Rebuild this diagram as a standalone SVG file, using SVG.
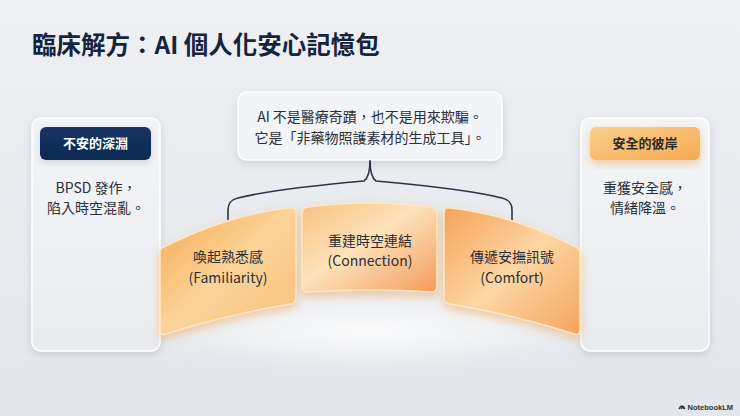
<svg xmlns="http://www.w3.org/2000/svg" width="740" height="416" viewBox="0 0 740 416">
<defs>
<linearGradient id="bg" x1="0" y1="0" x2="0" y2="1">
<stop offset="0" stop-color="#eef0f3"/><stop offset="1" stop-color="#e3e6eb"/>
</linearGradient>
<radialGradient id="glow" cx="0.5" cy="0.5" r="0.5">
<stop offset="0" stop-color="#ffffff" stop-opacity="0.9"/><stop offset="1" stop-color="#ffffff" stop-opacity="0"/>
</radialGradient>
<linearGradient id="panel" x1="0" y1="0" x2="0" y2="1">
<stop offset="0" stop-color="#f4f5f8"/><stop offset="1" stop-color="#e9ebef"/>
</linearGradient>
<linearGradient id="navy" x1="0" y1="0" x2="0" y2="1">
<stop offset="0" stop-color="#143462"/><stop offset="1" stop-color="#0c2a52"/>
</linearGradient>
<linearGradient id="gold" x1="0" y1="0" x2="1" y2="1">
<stop offset="0" stop-color="#fbd08c"/><stop offset="1" stop-color="#f5aa52"/>
</linearGradient>
<linearGradient id="cardL" x1="0" y1="0" x2="1" y2="1">
<stop offset="0" stop-color="#f6a94e"/><stop offset="0.5" stop-color="#fbd49a"/><stop offset="1" stop-color="#f8be78"/>
</linearGradient>
<linearGradient id="cardM" x1="0" y1="0" x2="1" y2="1">
<stop offset="0" stop-color="#f9c27e"/><stop offset="0.45" stop-color="#fde2bb"/><stop offset="1" stop-color="#f59b5a"/>
</linearGradient>
<linearGradient id="cardR" x1="0" y1="0" x2="1" y2="1">
<stop offset="0" stop-color="#f6a35a"/><stop offset="0.5" stop-color="#fcd7a4"/><stop offset="1" stop-color="#f5a35c"/>
</linearGradient>
<filter id="sh" x="-20%" y="-20%" width="140%" height="140%">
<feDropShadow dx="0" dy="3" stdDeviation="4" flood-color="#8a94a6" flood-opacity="0.3"/>
</filter>
<filter id="osh" x="-20%" y="-20%" width="140%" height="150%">
<feDropShadow dx="0" dy="4" stdDeviation="5" flood-color="#f29a3e" flood-opacity="0.45"/>
</filter>
<filter id="blur"><feGaussianBlur stdDeviation="6"/></filter>
<style>
.t{font-family:"Noto Sans CJK TC","Noto Sans",sans-serif;}
.body{font-size:14px;fill:#2b2f38;text-anchor:middle;}
.hd{font-size:13px;font-weight:700;text-anchor:middle;}
.panel{fill:url(#panel);stroke:#ffffff;stroke-width:1.5;filter:url(#sh);}
.card{stroke:#fde7c8;stroke-width:1.5;stroke-linejoin:round;filter:url(#osh);}
.con{fill:none;stroke:#2a3444;stroke-width:1.6;stroke-linecap:round;stroke-linejoin:round;}
</style>
</defs>
<rect width="740" height="416" fill="url(#bg)"/>
<ellipse cx="370" cy="330" rx="230" ry="40" fill="url(#glow)" filter="url(#blur)"/>

<text class="t" x="32" y="54" font-size="24.5" font-weight="700" fill="#16233d">臨床解方：AI 個人化安心記憶包</text>

<g id="left-panel">
<rect class="panel" x="32" y="118" width="128" height="233" rx="9"/>
<rect x="40" y="127" width="111" height="33" rx="6" fill="url(#navy)" filter="url(#sh)"/>
<text class="t hd" x="95.5" y="148" fill="#ffffff">不安的深淵</text>
<text class="t body" x="96" y="193">BPSD 發作，</text>
<text class="t body" x="96" y="213">陷入時空混亂。</text>
</g>

<g id="right-panel">
<rect class="panel" x="581" y="118" width="128" height="233" rx="9"/>
<rect x="590" y="127" width="110" height="33" rx="6" fill="url(#gold)" filter="url(#osh)"/>
<text class="t hd" x="645" y="148" fill="#2a2a2a">安全的彼岸</text>
<text class="t body" x="645" y="193">重獲安全感，</text>
<text class="t body" x="645" y="213">情緒降溫。</text>
</g>

<g id="callout">
<rect x="238" y="92" width="264" height="68" rx="9" fill="#f3f4f7" stroke="#ffffff" stroke-width="1.5" filter="url(#sh)"/>
<text class="t body" x="370" y="122">AI 不是醫療奇蹟，也不是用來欺騙。</text>
<text class="t body" x="370" y="143">它是「非藥物照護素材的生成工具」。</text>
</g>

<g id="connectors">
<path class="con" d="M370,161 C370,172 368,178 364,181 C330,184 270,190 238,198 C230,200 228,204 228,210 L228,222"/>
<path class="con" d="M370,161 C370,172 372,178 376,181 C410,184 470,190 502,198 C510,200 512,204 512,210 L512,222"/>
</g>

<g id="card-familiarity">
<path class="card" fill="url(#cardL)" d="M166,246 Q230,214 290,208 Q296,207 296,213 L296,298 Q296,303 290,304 Q225,315 166,334 Q160,336 160,330 L160,252 Q160,248 166,246 Z"/>
<text class="t body" x="228" y="262">喚起熟悉感</text>
<text class="t body" x="228" y="283">(Familiarity)</text>
</g>

<g id="card-connection">
<path class="card" fill="url(#cardM)" d="M308,207 Q370,199 431,207 Q437,208 437,214 L437,286 Q437,292 431,292 Q370,288 308,292 Q302,292 302,286 L302,214 Q302,208 308,207 Z"/>
<text class="t body" x="370" y="246">重建時空連結</text>
<text class="t body" x="370" y="266">(Connection)</text>
</g>

<g id="card-comfort">
<path class="card" fill="url(#cardR)" d="M574,246 Q510,214 450,208 Q444,207 444,213 L444,298 Q444,303 450,304 Q515,315 574,334 Q580,336 580,330 L580,252 Q580,248 574,246 Z"/>
<text class="t body" x="512" y="262">傳遞安撫訊號</text>
<text class="t body" x="512" y="283">(Comfort)</text>
</g>

<g id="logo">
<path d="M679,409 q3,-6 6,0 M681,409 q1.5,-3 3,0" fill="none" stroke="#333" stroke-width="1.3"/>
<text x="733" y="410" text-anchor="end" font-family="Liberation Sans, sans-serif" font-size="7.5" font-weight="700" fill="#333">NotebookLM</text>
</g>
</svg>
